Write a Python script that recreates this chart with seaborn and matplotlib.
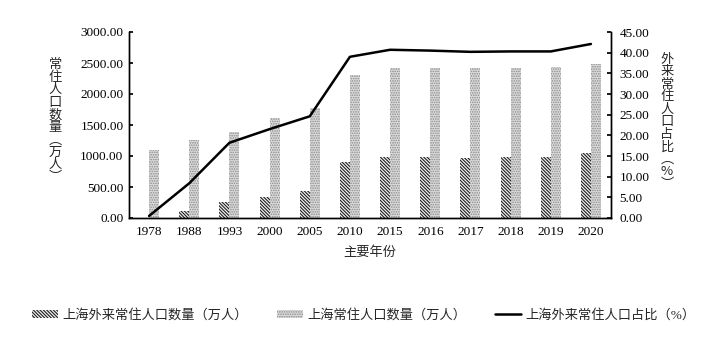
import numpy as np
import pandas as pd
import matplotlib as mpl
import matplotlib.pyplot as plt
import seaborn as sns
from matplotlib.patches import Patch
from matplotlib.lines import Line2D
from matplotlib.ticker import FormatStrFormatter, MultipleLocator

# Data
# --------------
years = ["1978", "1988", "1993", "2000", "2005", "2010",
         "2015", "2016", "2017", "2018", "2019", "2020"]
migrant_pop = [6, 106, 251, 346, 438, 898, 982, 980, 973, 976, 978, 1048]
total_pop = [1104, 1262, 1381, 1609, 1778, 2302, 2415, 2420, 2418, 2424, 2428, 2488]
migrant_share = [0.5, 8.4, 18.2, 21.5, 24.6, 39.0, 40.7, 40.5, 40.2, 40.3, 40.3, 42.1]

lab_migrant = "上海外来常住人口数量（万人）"
lab_total = "上海常住人口数量（万人）"
lab_share = "上海外来常住人口占比（%）"

# Set-up
# --------------
sns.set_theme(style="white")
plt.rcParams["font.family"] = ["Liberation Serif", "Noto Sans CJK SC"]
plt.rcParams["hatch.linewidth"] = 0.8
plt.rcParams["axes.unicode_minus"] = False

bars = pd.DataFrame({
    "year": years * 2,
    "value": migrant_pop + total_pop,
    "series": [lab_migrant] * len(years) + [lab_total] * len(years),
})
share = pd.DataFrame({"year": years, "share": migrant_share})

figure = plt.figure(figsize=(7.27, 3.42), dpi=100)
ax = figure.add_axes([129 / 727, 1 - 218 / 342, 482 / 727, 186 / 342])

# Plotting
# --------------
sns.barplot(data=bars, x="year", y="value", hue="series", ax=ax,
            width=0.5, legend=False, saturation=1)

dark = dict(facecolor="#f0f0f0", edgecolor="#1e1e1e", hatch="\\" * 10, linewidth=0)
light = dict(facecolor="#dcdcdc", edgecolor="#8a8a8a", hatch="." * 7, linewidth=0)
for cont, st in zip(ax.containers, [dark, light]):
    for p in cont:
        p.set_facecolor(st["facecolor"])
        p.set_edgecolor(st["edgecolor"])
        p.set_hatch(st["hatch"])
        p.set_linewidth(0)

ax2 = ax.twinx()
sns.pointplot(data=share, x="year", y="share", ax=ax2, color="black",
              markers="", linestyles="-", lw=1.8, errorbar=None)

# Axes styling
ax.set_ylim(0, 3000)
ax.yaxis.set_major_locator(MultipleLocator(500))
ax.yaxis.set_major_formatter(FormatStrFormatter("%.2f"))
ax2.set_ylim(0, 45)
ax2.yaxis.set_major_locator(MultipleLocator(5))
ax2.yaxis.set_major_formatter(FormatStrFormatter("%.2f"))
ax.set_xlim(-0.5, len(years) - 0.5)

for a in (ax, ax2):
    a.spines["top"].set_visible(False)
    for s in a.spines.values():
        s.set_color("black")
        s.set_linewidth(1.0)
    a.set_xlabel("")
    a.set_ylabel("")

ax.tick_params(axis="y", direction="in", length=3, labelsize=9.5, pad=4, colors="black")
ax2.tick_params(axis="y", direction="in", length=3, labelsize=9.5, pad=6, colors="black")
ax.tick_params(axis="x", which="major", length=0, labelsize=9.5, pad=6, colors="black")
ax.set_xticks(np.arange(-0.5, len(years), 1), minor=True)
ax.tick_params(axis="x", which="minor", direction="in", length=3, color="black")

ax.set_xlabel("主要年份", fontsize=9.5, labelpad=6)

# vertical axis titles, one character per line
figure.text(55 / 727, 1 - 121 / 342, "\n".join("常住人口数量︵万人︶"),
            ha="center", va="center", fontsize=9.5, linespacing=0.95,
            family=["Noto Sans CJK SC"])
figure.text(667 / 727, 1 - 122 / 342, "\n".join("外来常住人口占比︵%︶"),
            ha="center", va="center", fontsize=9.5, linespacing=0.95,
            family=["Noto Sans CJK SC"])

# Legend
handles = [
    Patch(**dark),
    Patch(**light),
    Line2D([0], [0], color="black", lw=1.8),
]
figure.legend(handles, [lab_migrant, lab_total, lab_share], loc="center",
              bbox_to_anchor=(0.5, 1 - 315 / 342), ncol=3, frameon=False,
              fontsize=9.5, handlelength=2.0, handleheight=0.5,
              columnspacing=2.2, handletextpad=0.3)

# Rendering
# --------------
figure.savefig("out.png", dpi=100)
